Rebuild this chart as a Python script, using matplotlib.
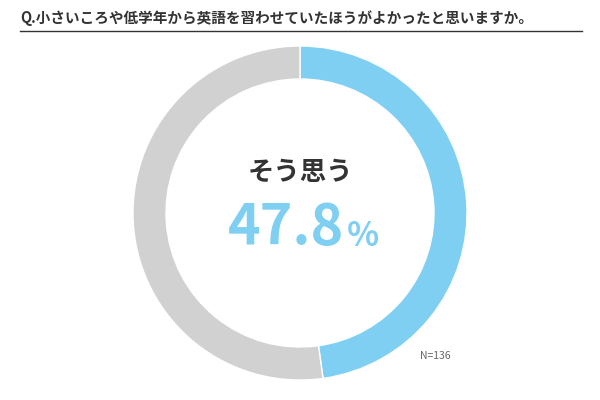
import matplotlib
matplotlib.use("Agg")
import matplotlib.pyplot as plt
from matplotlib.patches import Wedge

plt.rcParams['font.family'] = ['Noto Sans CJK JP', 'DejaVu Sans']

labels = ["そう思う", "そう思わない"]
values = [47.8, 52.2]
colors = ["#7fcff3", "#d2d1d2"]
title = "Q.小さいころや低学年から英語を習わせていたほうがよかったと思いますか。"
n_label = "N=136"

fig = plt.figure(figsize=(6, 4), dpi=100)
ax = fig.add_axes([0, 0, 1, 1])
ax.set_xlim(0, 600)
ax.set_ylim(400, 0)
ax.axis("off")
ax.set_aspect("equal")

cx, cy, r, w = 300, 213, 167, 33
# y axis inverted: increasing data angle from -90 goes clockwise on screen from top
start = -90
for v, c in zip(values, colors):
    end = start + v * 3.6
    ax.add_patch(Wedge((cx, cy), r, start, end, width=w, facecolor=c, edgecolor="white", linewidth=1))
    start = end

ax.text(20, 18, title, fontsize=10.5, fontweight="bold", color="#333333", va="center", ha="left")
ax.plot([20, 582], [31, 31], color="#333333", lw=1)

ax.text(cx, 172, labels[0], fontsize=19, fontweight="bold", color="#333333", ha="center", va="center")
ax.text(cx - 14, 228, f"{values[0]}", fontsize=40, fontweight="bold", color="#7fcff3", ha="center", va="center")
ax.text(363, 237, "%", fontsize=24, fontweight="bold", color="#7fcff3", ha="center", va="center")
ax.text(420, 356, n_label, fontsize=7.5, color="#666666", ha="left", va="center")

fig.savefig("out.png", dpi=100)
